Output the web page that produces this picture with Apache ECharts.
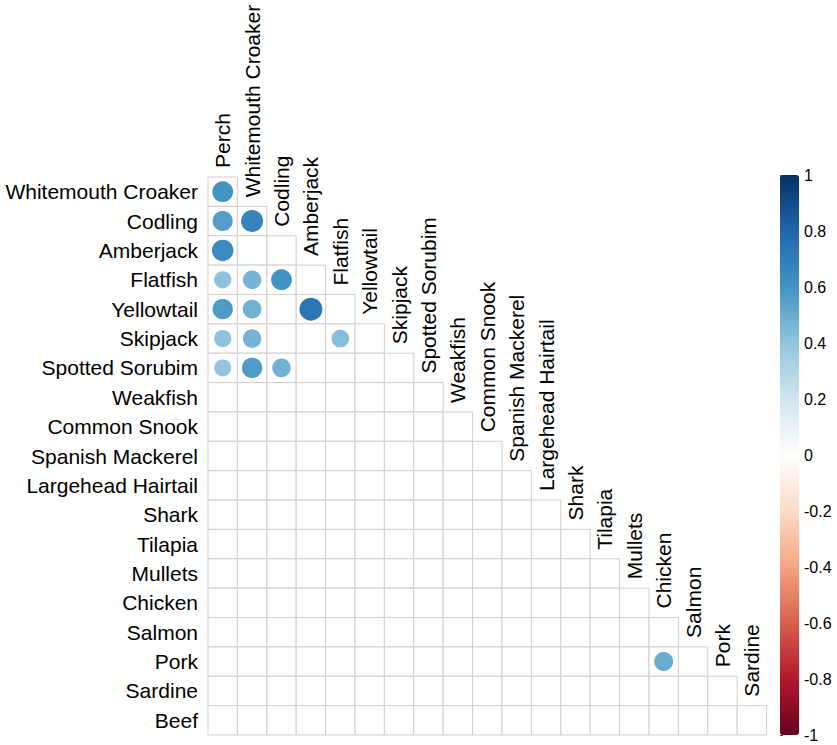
<!DOCTYPE html>
<html>
<head>
<meta charset="utf-8">
<script src="https://cdn.jsdelivr.net/npm/echarts@6/dist/echarts.min.js"></script>
<style>
html,body{margin:0;padding:0;background:#fff;}
#chart{width:837px;height:745px;}
</style>
</head>
<body>
<div id="chart"></div>
<script>
// Row categories (top to bottom)
var rowLabels = ["Whitemouth Croaker","Codling","Amberjack","Flatfish","Yellowtail","Skipjack","Spotted Sorubim","Weakfish","Common Snook","Spanish Mackerel","Largehead Hairtail","Shark","Tilapia","Mullets","Chicken","Salmon","Pork","Sardine","Beef"];
// Column categories (left to right)
var colLabels = ["Perch","Whitemouth Croaker","Codling","Amberjack","Flatfish","Yellowtail","Skipjack","Spotted Sorubim","Weakfish","Common Snook","Spanish Mackerel","Largehead Hairtail","Shark","Tilapia","Mullets","Chicken","Salmon","Pork","Sardine"];
// Significant correlations shown as circles: [row, column, r]
var corrRows = ["Whitemouth Croaker","Codling","Codling","Amberjack","Flatfish","Flatfish","Flatfish","Yellowtail","Yellowtail","Yellowtail","Skipjack","Skipjack","Skipjack","Spotted Sorubim","Spotted Sorubim","Spotted Sorubim","Pork"];
var corrCols = ["Perch","Perch","Whitemouth Croaker","Perch","Perch","Whitemouth Croaker","Codling","Perch","Whitemouth Croaker","Amberjack","Perch","Whitemouth Croaker","Flatfish","Perch","Whitemouth Croaker","Codling","Chicken"];
var corrValues = [0.60,0.56,0.67,0.64,0.41,0.47,0.60,0.57,0.48,0.73,0.41,0.47,0.43,0.40,0.57,0.48,0.50];
// Colour bar tick labels
var colorbarTicks = [-1,-0.8,-0.6,-0.4,-0.2,0,0.2,0.4,0.6,0.8,1];
// RdBu palette (from -1 to 1)
var palette = ["#67001F","#B2182B","#D6604D","#F4A582","#FDDBC7","#FFFFFF","#D1E5F0","#92C5DE","#4393C3","#2166AC","#053061"];

var FONT = "'Liberation Sans', Arial, sans-serif";

// lower-triangle cells
var cells = [];
for (var i = 0; i < rowLabels.length; i++) {
  for (var j = 0; j <= i; j++) cells.push([j, i]);
}
var circles = corrValues.map(function (v, k) {
  return [colLabels.indexOf(corrCols[k]), rowLabels.indexOf(corrRows[k]), v];
});
var colLabelData = colLabels.map(function (n, j) { return [j, j]; });

var chart = echarts.init(document.getElementById('chart'), null, {renderer: 'svg'});
var option = {
  backgroundColor: '#fff',
  animation: false,
  grid: [
    {left: 208, top: 177, width: 558.6, height: 558},
    {left: 780, top: 175, width: 19, height: 560}
  ],
  xAxis: [
    {type: 'category', gridIndex: 0, data: colLabels, position: 'top',
     axisLine: {show: false}, axisTick: {show: false}, axisLabel: {show: false}, splitLine: {show: false}},
    {type: 'value', gridIndex: 1, show: false, min: 0, max: 1}
  ],
  yAxis: [
    {type: 'category', gridIndex: 0, data: rowLabels, inverse: true,
     axisLine: {show: false}, axisTick: {show: false}, splitLine: {show: false},
     axisLabel: {fontSize: 21, color: '#000', fontFamily: FONT, margin: 10}},
    {type: 'value', gridIndex: 1, min: colorbarTicks[0], max: colorbarTicks[colorbarTicks.length - 1], interval: 0.2,
     position: 'right', splitLine: {show: false},
     axisLine: {show: false},
     axisTick: {show: true, length: 3, lineStyle: {color: '#444'}},
     axisLabel: {fontSize: 16, color: '#000', fontFamily: FONT, margin: 5}}
  ],
  visualMap: {
    type: 'continuous', min: -1, max: 1, dimension: 2, seriesIndex: 1,
    inRange: {color: palette},
    calculable: false, hoverLink: false,
    left: 780, top: 175, itemWidth: 19, itemHeight: 560, padding: 0,
    text: null, showLabel: false
  },
  series: [
    {
      type: 'custom', xAxisIndex: 0, yAxisIndex: 0, data: cells, silent: true,
      renderItem: function (params, api) {
        var c = api.coord([api.value(0), api.value(1)]);
        var s = api.size([1, 1]);
        return {type: 'rect', shape: {x: c[0] - s[0] / 2, y: c[1] - s[1] / 2, width: s[0], height: s[1]},
                style: {fill: '#fff', stroke: '#cfcfcf', lineWidth: 1}};
      }
    },
    {
      type: 'scatter', xAxisIndex: 0, yAxisIndex: 0, data: circles, silent: true,
      symbol: 'circle',
      symbolSize: function (v) { return 26.9 * Math.sqrt(Math.abs(v[2])); },
      itemStyle: {opacity: 1}
    },
    {
      type: 'custom', xAxisIndex: 0, yAxisIndex: 0, data: colLabelData, silent: true,
      renderItem: function (params, api) {
        var c = api.coord([api.value(0), api.value(1)]);
        var s = api.size([1, 1]);
        return {type: 'text', x: c[0], y: c[1] - s[1] / 2 - 9, rotation: Math.PI / 2,
                style: {text: colLabels[params.dataIndex], x: 0, y: 0, align: 'left', verticalAlign: 'middle',
                        fontSize: 21, fontFamily: FONT, fill: '#000'}};
      }
    }
  ]
};
chart.setOption(option);
</script>
</body>
</html>
